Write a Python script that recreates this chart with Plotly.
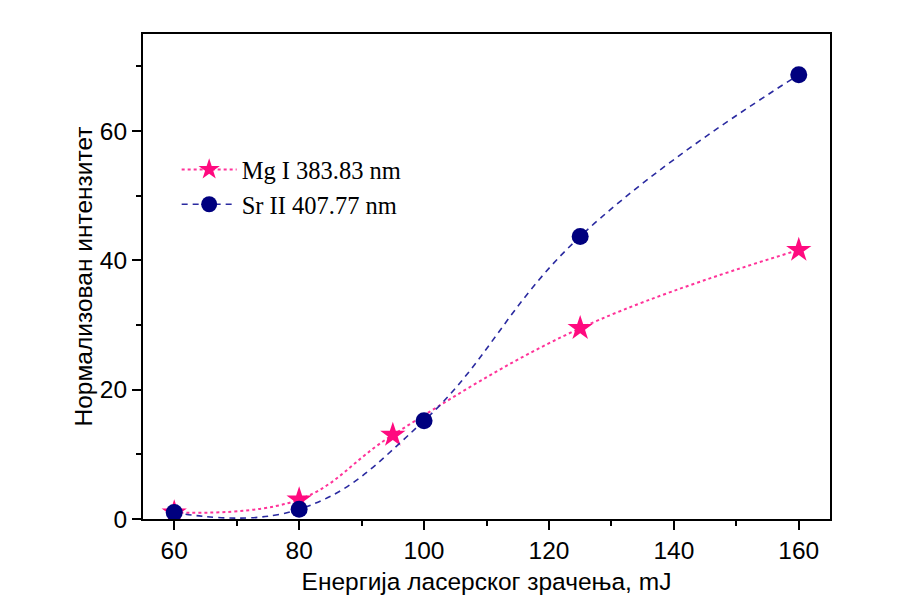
import plotly.graph_objects as go

mg_x = [60, 80, 95, 125, 160]
mg_y = [1.0, 3.0, 13.0, 29.5, 41.6]
sr_x = [60, 80, 100, 125, 160]
sr_y = [1.0, 1.5, 15.2, 43.7, 68.7]

x_title = "Енергија ласерског зрачења, mJ"
y_title = "Нормализован интензитет"

fig = go.Figure()
fig.add_trace(go.Scatter(
    x=mg_x, y=mg_y, name="Mg I 383.83 nm", mode="lines+markers",
    line=dict(color="#FF3399", width=2, dash="dot", shape="spline", smoothing=1.1),
    marker=dict(symbol="star", size=19, color="#FF0A7F", line=dict(width=0)),
))
fig.add_trace(go.Scatter(
    x=sr_x, y=sr_y, name="Sr II 407.77 nm", mode="lines+markers",
    line=dict(color="#2A2AA0", width=1.6, dash="6px,5px", shape="spline", smoothing=1.2),
    marker=dict(symbol="circle", size=17, color="#00007F", line=dict(width=0)),
))

FS = 24.5
axis_common = dict(
    showline=True, linecolor="black", linewidth=2, mirror=True,
    ticks="outside", ticklen=9, tickwidth=2, tickcolor="black",
    showgrid=False, zeroline=False,
    tickfont=dict(family="Liberation Sans, Arial", size=FS, color="black"),
)
fig.update_xaxes(
    range=[55, 165], tickmode="array", tickvals=[60, 80, 100, 120, 140, 160],
    minor=dict(tickvals=[70, 90, 110, 130, 150], ticks="outside", ticklen=5, tickwidth=2, tickcolor="black"),
    title=dict(text=x_title, font=dict(family="Liberation Sans, Arial", size=FS, color="black"), standoff=9),
    **axis_common,
)
fig.update_yaxes(
    range=[0, 75], tickmode="array", tickvals=[0, 20, 40, 60],
    minor=dict(tickvals=[10, 30, 50, 70], ticks="outside", ticklen=5, tickwidth=2, tickcolor="black"),
    title=dict(text=y_title, font=dict(family="Liberation Sans, Arial", size=FS, color="black"), standoff=0),
    **axis_common,
)
fig.update_layout(
    width=906, height=608,
    margin=dict(l=143, r=76, t=34, b=89, autoexpand=False),
    paper_bgcolor="white", plot_bgcolor="white",
    showlegend=True,
    legend=dict(
        x=0.049, y=0.767, xanchor="left", yanchor="top",
        bgcolor="rgba(0,0,0,0)",
        font=dict(family="Liberation Serif, Times New Roman", size=FS, color="black"),
        itemwidth=55, tracegroupgap=0,
    ),
)
fig.write_html("out.html")
